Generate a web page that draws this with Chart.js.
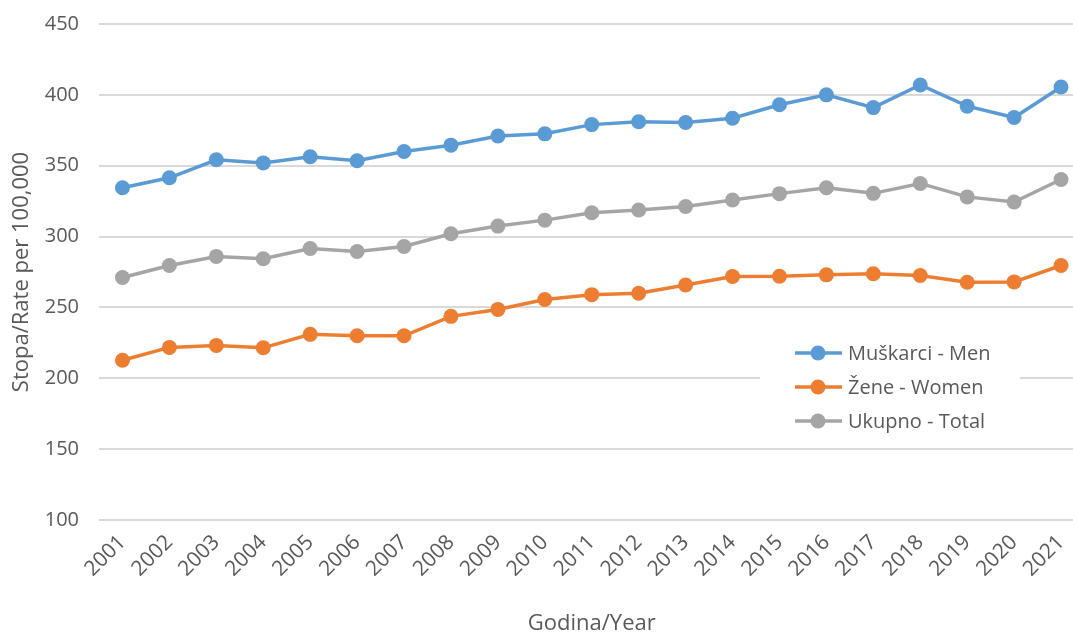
<!DOCTYPE html>
<html>
<head>
<meta charset="utf-8">
<script src="https://cdn.jsdelivr.net/npm/chart.js@4"></script>
<style>
  html, body { margin: 0; padding: 0; background: #fff; overflow: hidden; }
  #wrap { width: 1073px; height: 637px; overflow: hidden; }
  #myChart { display: block; margin-top: -8px; }
</style>
</head>
<body>
<div id="wrap"><canvas id="myChart" width="1092" height="645"></canvas></div>
<script>
var years = ['2001','2002','2003','2004','2005','2006','2007','2008','2009','2010','2011',
             '2012','2013','2014','2015','2016','2017','2018','2019','2020','2021'];
var men   = [334.5,341.5,354.2,352,356.3,353.5,360,364.5,371,372.5,379,381,380.5,383.5,393,400,391,407,392,384,405.5];
var women = [212.7,221.8,223.2,221.5,231,230,230,243.7,248.6,255.6,259,260,265.8,271.8,272,273,273.8,272.5,267.8,268,279.6];
var total = [271.1,279.6,286,284.3,291.6,289.5,293,302,307.4,311.6,316.8,318.7,321.2,325.8,330.3,334.4,330.5,337.5,328,324.4,340.3];
var yTicks = [100,150,200,250,300,350,400,450];
var labels = ['Muškarci - Men','Žene - Women','Ukupno - Total'];
var colors = ['#5B9BD5','#ED7D31','#A5A5A5'];
var font = "'Open Sans', 'Liberation Sans', sans-serif";

// legend sitting inside the plot, white box covers the grid line behind it
var insideLegend = {
    id: 'insideLegend',
    afterDatasetsDraw: function(chart){
        var ctx = chart.ctx;
        var x0 = 760, y0 = 344;   // canvas is shifted up by 8px
        ctx.save();
        ctx.fillStyle = '#ffffff';
        ctx.fillRect(x0, y0, 260, 102);
        ctx.font = '20px ' + font;
        ctx.textBaseline = 'middle';
        chart.data.datasets.forEach(function(ds, i){
            var y = y0 + 17 + i * 34;
            ctx.strokeStyle = ds.borderColor;
            ctx.lineWidth = 3.5;
            ctx.beginPath();
            ctx.moveTo(x0 + 35, y);
            ctx.lineTo(x0 + 82, y);
            ctx.stroke();
            ctx.fillStyle = ds.backgroundColor;
            ctx.beginPath();
            ctx.arc(x0 + 58, y, 7.5, 0, Math.PI * 2);
            ctx.fill();
            ctx.fillStyle = '#595959';
            ctx.fillText(ds.label, x0 + 88, y + 1);
        });
        ctx.restore();
    }
};

var sets = [men, women, total].map(function(d, i){
    return {
        label: labels[i],
        data: d,
        borderColor: colors[i],
        backgroundColor: colors[i],
        borderWidth: 3.5,
        pointRadius: 7.5,
        pointHoverRadius: 7.5,
        pointBorderWidth: 0,
        tension: 0
    };
});

var ctx = document.getElementById('myChart').getContext('2d');
var myLineChart = new Chart(ctx, {
    type: 'line',
    data: { labels: years, datasets: sets },
    options: {
        responsive: false,
        animation: false,
        layout: { padding: { left: 0, right: 0, top: 0, bottom: 0 } },
        plugins: {
            legend: { display: false },
            tooltip: { enabled: false }
        },
        scales: {
            x: {
                offset: true,
                grid: { display: false },
                border: { display: false },
                ticks: {
                    color: '#595959',
                    font: { family: font, size: 21 },
                    minRotation: 45,
                    maxRotation: 45,
                    autoSkip: false,
                    padding: 2
                },
                title: {
                    display: true,
                    text: 'Godina/Year',
                    color: '#595959',
                    font: { family: font, size: 22 },
                    padding: { top: 12, bottom: 0 }
                },
                afterFit: function(scale){ scale.height = 117; }
            },
            y: {
                min: 100,
                max: 450,
                afterBuildTicks: function(scale){
                    scale.ticks = yTicks.map(function(v){ return { value: v }; });
                },
                grid: { color: '#D9D9D9', lineWidth: 2, drawTicks: false },
                border: { display: false },
                ticks: {
                    color: '#595959',
                    font: { family: font, size: 20 },
                    padding: 20
                },
                title: {
                    display: true,
                    text: 'Stopa/Rate per 100,000',
                    color: '#595959',
                    font: { family: font, size: 22 },
                    padding: { top: 9, bottom: 0 }
                },
                afterFit: function(scale){ scale.width = 99; }
            }
        }
    },
    plugins: [insideLegend]
});
</script>
</body>
</html>
